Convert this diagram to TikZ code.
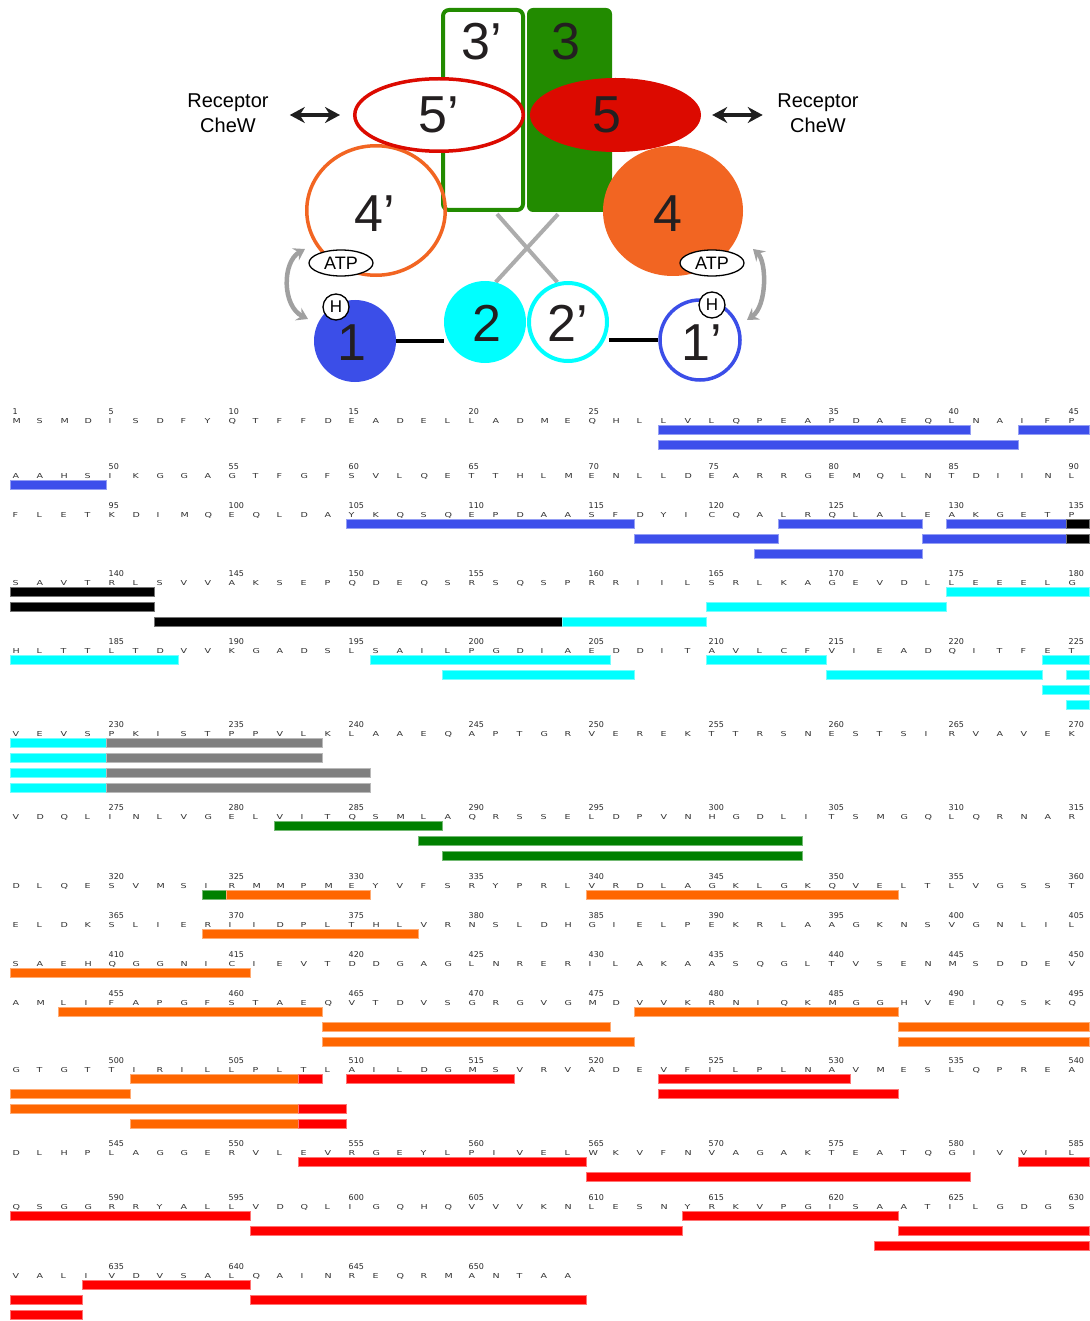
\documentclass[tikz,border=0pt]{standalone}
\usepackage{fontspec}
\setmainfont{Liberation Sans}
\newfontfamily\seqfont{DejaVu Sans}
\usetikzlibrary{shapes.geometric,arrows.meta}

% domain colours
\definecolor{dgreen}{RGB}{34,139,0}
\definecolor{dred}{RGB}{220,10,0}
\definecolor{dorange}{RGB}{242,101,34}
\definecolor{dblue}{RGB}{59,78,232}
\definecolor{dcyan}{RGB}{0,255,255}
\definecolor{digit}{RGB}{35,31,32}
\definecolor{xgray}{RGB}{172,172,172}
\definecolor{agray}{RGB}{160,160,160}
% bar colours
\definecolor{bblue}{RGB}{61,79,235}
\definecolor{bcyan}{RGB}{0,255,255}
\definecolor{bgray}{RGB}{128,128,128}
\definecolor{bgreen}{RGB}{0,128,0}
\definecolor{borange}{RGB}{255,102,0}
\definecolor{bred}{RGB}{255,0,0}
\definecolor{bblack}{RGB}{0,0,0}
\definecolor{lettergray}{RGB}{50,50,50}
\definecolor{numgray}{RGB}{40,40,40}

% one row of residues: #1 row index, #2 y of the number line, #3 residues
\newcommand\seqrow[3]{%
  \foreach \rl [count=\ci] in {#3} {
    \pgfmathtruncatemacro\rn{#1*45+\ci}
    \node[res] (aa\rn) at ({12.5+(\ci-1)*24}, #2+12.4) {\scalebox{1.4}[1]{\rl}};
  }}
% position numbers: #1 row index, #2 y, #3 positions in the row
\newcommand\seqnums[3]{%
  \foreach \p in {#3} {
    \pgfmathtruncatemacro\rn{#1*45+\p}
    \node[num] (lab\rn) at ({12.5+(\p-1)*24}, #2+3) {\rn};
  }}
% coloured segment: #1 colour, #2 y centre, #3 first and #4 last position in the row
\newcommand\seg[4]{%
  \filldraw[fill=#1, draw=#1!55!white, line width=0.6pt]
    ({10+(#3-1)*24}, #2-4.4) rectangle ({min(1089,10+#4*24)}, #2+4.4);}

\begin{document}
\begin{tikzpicture}[x=1pt,y=-1pt,
  res/.style={anchor=base west, inner sep=0, text=lettergray,
    font=\seqfont\fontsize{6.8}{7}\selectfont},
  num/.style={anchor=base west, inner sep=0, text=numgray,
    font=\seqfont\fontsize{8}{9}\selectfont},
  bignum/.style={inner sep=0, text=digit, font=\fontsize{52}{52}\selectfont},
  rectext/.style={align=center, inner sep=0, text=black, font=\fontsize{20}{25}\selectfont},
  atp/.style={ellipse, draw=black, line width=1.3pt, fill=white, minimum width=64pt,
    minimum height=26pt, inner sep=0, font=\fontsize{18}{18}\selectfont},
  hcirc/.style={circle, draw=black, line width=1.3pt, fill=white, minimum size=26pt,
    inner sep=0, font=\fontsize{17}{17}\selectfont},
  xline/.style={draw=xgray, line width=4pt},
  linker/.style={draw=black, line width=3.5pt},
  garrow/.style={draw=agray, line width=4.5pt,
    {Stealth[length=11pt,width=14pt,inset=4pt]}-{Stealth[length=11pt,width=14pt,inset=4pt]}},
  recarrow/.style={draw=black!88, line width=4.5pt,
    {Stealth[length=15pt,width=16pt,inset=5pt]}-{Stealth[length=15pt,width=16pt,inset=5pt]}}
]
\useasboundingbox (0,0) rectangle (1089,1321);
\fill[white] (0,0) rectangle (1089,1321);

% ---------- domain architecture ----------
% dimerisation boxes
\node[draw=dgreen, line width=4pt, fill=white, rounded corners=6pt,
  minimum width=80pt, minimum height=200pt, inner sep=0] (b3p) at (483,110) {};
\node[fill=dgreen, rounded corners=6pt, minimum width=85pt, minimum height=204pt,
  inner sep=0] (b3) at (569.5,110) {};

% outlines of the lower domains
\node[circle, minimum size=82pt, inner sep=0] (c1) at (355,341) {};
\node[circle, minimum size=82pt, inner sep=0] (c2) at (485,322) {};
\node[circle, minimum size=82pt, inner sep=0] (c2p) at (568,322) {};
\node[circle, minimum size=83pt, inner sep=0] (c1p) at (700,340) {};

% crossing connections from 3/3' down to 2'/2
\draw[xline] ([xshift=14pt,yshift=-2pt]b3p.south) -- (c2p.105);
\draw[xline] ([xshift=-11.5pt,yshift=-2pt]b3.south) -- (c2.75);

% kinase domains
\node[ellipse, fill=dorange, minimum width=140pt, minimum height=130pt, inner sep=0] (c4) at (673,211) {};
\node[ellipse, draw=dorange, line width=3.5pt, minimum width=138.5pt, minimum height=129.5pt, inner sep=0] (c4p) at (376,210.5) {};

% regulatory domains
\node[ellipse, draw=dred, line width=3.5pt, fill=white, minimum width=168.5pt,
  minimum height=72.5pt, inner sep=0] (e5p) at (439,115) {};
\node[ellipse, fill=dred, minimum width=171pt, minimum height=74pt, inner sep=0] (e5) at (615.5,115) {};

% linkers between 1 and 2
\draw[linker] (c1.east) -- (c1.east -| c2.west);
\draw[linker] (c2p.east |- c1p.west) -- (c1p.west);

% phosphotransfer and dimerisation domains
\node[circle, fill=dblue, minimum size=82pt, inner sep=0] at (c1) {};
\node[circle, fill=dcyan, minimum size=82pt, inner sep=0] at (c2) {};
\node[circle, draw=dcyan, line width=4pt, fill=white, minimum size=78pt, inner sep=0] at (c2p) {};
\node[circle, draw=dblue, line width=3.5pt, fill=white, minimum size=80pt, inner sep=0] at (c1p) {};

% domain numbers
\node[bignum] (t3p) at (482,42) {3’};
\node[bignum] (t3) at (566,42) {3};
\node[bignum] (t5p) at (439,115) {5’};
\node[bignum] (t5) at (607,115) {5};
\node[bignum] (t4p) at (375,214) {4’};
\node[bignum] (t4) at (668,214) {4};
\node[bignum] (t1) at (352,343) {1};
\node[bignum] (t2) at (487,323) {2};
\node[bignum] (t2p) at (568,323) {2’};
\node[bignum] (t1p) at (702,343) {1’};

% ATP sites and histidines
\node[atp] (atpL) at (341,263) {ATP};
\node[atp] (atpR) at (712,263) {ATP};
\node[hcirc] (hL) at (336,307) {H};
\node[hcirc] (hR) at (712,305) {H};

% phosphoryl transfer arrows
\coordinate (gl1) at (305,249);
\coordinate (gl2) at (308,319);
\coordinate (gr1) at (753,249);
\coordinate (gr2) at (747,320);
\draw[garrow] (gl1) .. controls (282,262) and (282,306) .. (gl2);
\draw[garrow] (gr1) .. controls (767,262) and (767,306) .. (gr2);

% receptor / CheW contacts
\node[rectext] (recL) at (228,113.5) {Receptor\\CheW};
\node[rectext] (recR) at (818,113.5) {Receptor\\CheW};
\draw[recarrow] ([xshift=21pt]recL.east |- e5p.center) -- ([xshift=-13pt]e5p.west);
\draw[recarrow] ([xshift=11pt]e5.east) -- ([xshift=-14.5pt]recR.west |- e5.center);

% ---------- sequence ----------
% segments
\seg{bblue}{430}{28}{40} \seg{bblue}{430}{43}{45} \seg{bblue}{445}{28}{42}
\seg{bblue}{485}{1}{4}
\seg{bblue}{524}{15}{26} \seg{bblue}{524}{33}{38} \seg{bblue}{524}{40}{44} \seg{bblack}{524}{45}{45}
\seg{bblue}{539}{27}{32} \seg{bblue}{539}{39}{44} \seg{bblack}{539}{45}{45}
\seg{bblue}{554}{32}{38}
\seg{bblack}{592}{1}{6} \seg{bcyan}{592}{40}{45}
\seg{bblack}{607}{1}{6} \seg{bcyan}{607}{30}{39}
\seg{bblack}{622}{7}{23} \seg{bcyan}{622}{24}{29}
\seg{bcyan}{660}{1}{7} \seg{bcyan}{660}{16}{25} \seg{bcyan}{660}{30}{34} \seg{bcyan}{660}{44}{45}
\seg{bcyan}{675}{19}{26} \seg{bcyan}{675}{35}{43} \seg{bcyan}{675}{45}{45}
\seg{bcyan}{690}{44}{45}
\seg{bcyan}{705}{45}{45}
\seg{bcyan}{743}{1}{4} \seg{bgray}{743}{5}{13}
\seg{bcyan}{758}{1}{4} \seg{bgray}{758}{5}{13}
\seg{bcyan}{773}{1}{4} \seg{bgray}{773}{5}{15}
\seg{bcyan}{788}{1}{4} \seg{bgray}{788}{5}{15}
\seg{bgreen}{826}{12}{18}
\seg{bgreen}{841}{18}{33}
\seg{bgreen}{856}{19}{33}
\seg{bgreen}{895}{9}{9} \seg{borange}{895}{10}{15} \seg{borange}{895}{25}{37}
\seg{borange}{934}{9}{17}
\seg{borange}{973}{1}{10}
\seg{borange}{1012}{3}{13} \seg{borange}{1012}{27}{37}
\seg{borange}{1027}{14}{25} \seg{borange}{1027}{38}{45}
\seg{borange}{1042}{14}{26} \seg{borange}{1042}{38}{45}
\seg{borange}{1079}{6}{12} \seg{bred}{1079}{13}{13} \seg{bred}{1079}{15}{21} \seg{bred}{1079}{28}{35}
\seg{borange}{1094}{1}{5} \seg{bred}{1094}{28}{37}
\seg{borange}{1109}{1}{12} \seg{bred}{1109}{13}{14}
\seg{borange}{1124}{6}{12} \seg{bred}{1124}{13}{14}
\seg{bred}{1162}{13}{24} \seg{bred}{1162}{43}{45}
\seg{bred}{1177}{25}{40}
\seg{bred}{1216}{1}{10} \seg{bred}{1216}{29}{37}
\seg{bred}{1231}{11}{28} \seg{bred}{1231}{38}{45}
\seg{bred}{1246}{37}{45}
\seg{bred}{1285}{4}{10}
\seg{bred}{1300}{1}{3} \seg{bred}{1300}{11}{24}
\seg{bred}{1315}{1}{3}

% residue numbers
\seqnums{0}{411}{1,5,10,15,20,25,35,40,45}
\seqnums{1}{466}{5,10,...,45}
\seqnums{2}{505}{5,10,...,45}
\seqnums{3}{573}{5,10,...,45}
\seqnums{4}{641}{5,10,...,45}
\seqnums{5}{724}{5,10,...,45}
\seqnums{6}{807}{5,10,...,45}
\seqnums{7}{876}{5,10,...,45}
\seqnums{8}{915}{5,10,...,45}
\seqnums{9}{954}{5,10,...,45}
\seqnums{10}{993}{5,10,...,45}
\seqnums{11}{1060}{5,10,...,45}
\seqnums{12}{1143}{5,10,...,45}
\seqnums{13}{1197}{5,10,...,45}
\seqnums{14}{1266}{5,10,15,20}

% residues
\seqrow{0}{411}{M,S,M,D,I,S,D,F,Y,Q,T,F,F,D,E,A,D,E,L,L,A,D,M,E,Q,H,L,L,V,L,Q,P,E,A,P,D,A,E,Q,L,N,A,I,F,P}
\seqrow{1}{466}{A,A,H,S,I,K,G,G,A,G,T,F,G,F,S,V,L,Q,E,T,T,H,L,M,E,N,L,L,D,E,A,R,R,G,E,M,Q,L,N,T,D,I,I,N,L}
\seqrow{2}{505}{F,L,E,T,K,D,I,M,Q,E,Q,L,D,A,Y,K,Q,S,Q,E,P,D,A,A,S,F,D,Y,I,C,Q,A,L,R,Q,L,A,L,E,A,K,G,E,T,P}
\seqrow{3}{573}{S,A,V,T,R,L,S,V,V,A,K,S,E,P,Q,D,E,Q,S,R,S,Q,S,P,R,R,I,I,L,S,R,L,K,A,G,E,V,D,L,L,E,E,E,L,G}
\seqrow{4}{641}{H,L,T,T,L,T,D,V,V,K,G,A,D,S,L,S,A,I,L,P,G,D,I,A,E,D,D,I,T,A,V,L,C,F,V,I,E,A,D,Q,I,T,F,E,T}
\seqrow{5}{724}{V,E,V,S,P,K,I,S,T,P,P,V,L,K,L,A,A,E,Q,A,P,T,G,R,V,E,R,E,K,T,T,R,S,N,E,S,T,S,I,R,V,A,V,E,K}
\seqrow{6}{807}{V,D,Q,L,I,N,L,V,G,E,L,V,I,T,Q,S,M,L,A,Q,R,S,S,E,L,D,P,V,N,H,G,D,L,I,T,S,M,G,Q,L,Q,R,N,A,R}
\seqrow{7}{876}{D,L,Q,E,S,V,M,S,I,R,M,M,P,M,E,Y,V,F,S,R,Y,P,R,L,V,R,D,L,A,G,K,L,G,K,Q,V,E,L,T,L,V,G,S,S,T}
\seqrow{8}{915}{E,L,D,K,S,L,I,E,R,I,I,D,P,L,T,H,L,V,R,N,S,L,D,H,G,I,E,L,P,E,K,R,L,A,A,G,K,N,S,V,G,N,L,I,L}
\seqrow{9}{954}{S,A,E,H,Q,G,G,N,I,C,I,E,V,T,D,D,G,A,G,L,N,R,E,R,I,L,A,K,A,A,S,Q,G,L,T,V,S,E,N,M,S,D,D,E,V}
\seqrow{10}{993}{A,M,L,I,F,A,P,G,F,S,T,A,E,Q,V,T,D,V,S,G,R,G,V,G,M,D,V,V,K,R,N,I,Q,K,M,G,G,H,V,E,I,Q,S,K,Q}
\seqrow{11}{1060}{G,T,G,T,T,I,R,I,L,L,P,L,T,L,A,I,L,D,G,M,S,V,R,V,A,D,E,V,F,I,L,P,L,N,A,V,M,E,S,L,Q,P,R,E,A}
\seqrow{12}{1143}{D,L,H,P,L,A,G,G,E,R,V,L,E,V,R,G,E,Y,L,P,I,V,E,L,W,K,V,F,N,V,A,G,A,K,T,E,A,T,Q,G,I,V,V,I,L}
\seqrow{13}{1197}{Q,S,G,G,R,R,Y,A,L,L,V,D,Q,L,I,G,Q,H,Q,V,V,V,K,N,L,E,S,N,Y,R,K,V,P,G,I,S,A,A,T,I,L,G,D,G,S}
\seqrow{14}{1266}{V,A,L,I,V,D,V,S,A,L,Q,A,I,N,R,E,Q,R,M,A,N,T,A,A}
\end{tikzpicture}
\end{document}
